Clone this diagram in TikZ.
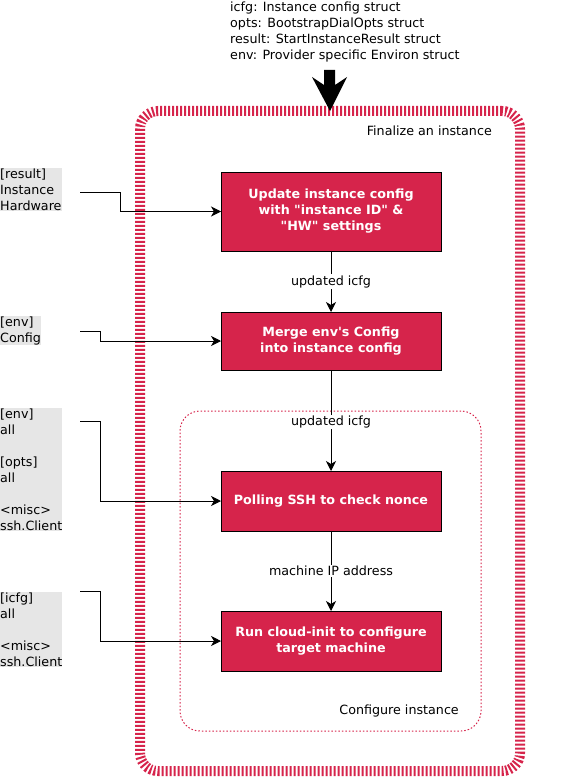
\documentclass[tikz,border=0pt]{standalone}
\usepackage{fontspec}
\setmainfont{DejaVu Sans}
\usetikzlibrary{arrows.meta}
\definecolor{crim}{HTML}{D6244B}
\definecolor{lgrey}{HTML}{E6E6E6}
\tikzset{
  base/.style={font=\fontsize{12.7}{16}\selectfont},
  procbox/.style={base, draw=black, line width=0.9pt, fill=crim, text=white,
    font=\fontsize{12.7}{16}\selectfont\bfseries, align=center,
    minimum width=220pt, inner sep=0pt, outer sep=0pt},
  inlabel/.style={base, fill=lgrey, align=left, anchor=north west, inner xsep=0pt, inner ysep=0.5pt},
  edgelabel/.style={base, fill=white, inner sep=1pt},
  conn/.style={draw=black, line width=0.9pt, -{Stealth[length=10pt, width=10pt, inset=3pt]}},
}
\begin{document}
\begin{tikzpicture}[x=1pt,y=-1pt]
\useasboundingbox (0,0) rectangle (562,778);
% containers
\node[draw=crim, line width=10pt, dash pattern=on 2pt off 2pt, rounded corners=18pt,
  minimum width=380pt, minimum height=660pt, outer sep=0pt, inner sep=0pt] (outer) at (330,441) {};
\node[draw=crim, line width=1pt, dash pattern=on 1.5pt off 2pt, rounded corners=20pt,
  minimum width=301pt, minimum height=320pt, outer sep=0pt, inner sep=0pt] (inner) at (330.5,571) {};
\node[base, anchor=east, inner sep=0pt] (outerlbl) at (492,131) {Finalize an instance};
\node[base, anchor=east, inner sep=0pt] (innerlbl) at (459,711) {Configure instance};
% top text
\node[base, align=left, anchor=north west, inner sep=0pt] (toptext) at (230,1.5)
  {icfg: Instance config struct\\opts: BootstrapDialOpts struct\\result: StartInstanceResult struct\\env: Provider specific Environ struct};
% big arrow
\fill[black] (outer.north) -- ++(17,-34) -- ++(-12,8) -- ++(0,-15) -- ++(-11,0) -- ++(0,15) -- ++(-12,-8) -- cycle;
% process boxes
\node[procbox, minimum height=79pt] (b1) at (331,211.5) {Update instance config\\with \textquotedbl instance ID\textquotedbl{} \&\\\textquotedbl HW\textquotedbl{} settings};
\node[procbox, minimum height=58pt] (b2) at (331,341) {Merge env\textquotesingle s Config\\into instance config};
\node[procbox, minimum height=60pt] (b3) at (331,501) {Polling SSH to check nonce};
\node[procbox, minimum height=60pt] (b4) at (331,641) {Run cloud-init to configure\\target machine};
% vertical connectors
\draw[conn] (b1) -- node[edgelabel]{updated icfg} (b2);
\draw[conn] (b2) -- node[edgelabel, pos=0.515]{updated icfg} (b3);
\draw[conn] (b3) -- node[edgelabel]{machine IP address} (b4);
% input labels
\node[inlabel] (l1) at (0,168) {[result]\\Instance\\Hardware};
\node[inlabel] (l2) at (0,316) {[env]\\Config};
\node[inlabel] (l3) at (0,408) {[env]\\all\\[16pt][opts]\\all\\[16pt]<misc>\\ssh.Client};
\node[inlabel] (l4) at (0,592) {[icfg]\\all\\[16pt]<misc>\\ssh.Client};
\coordinate (s1) at (80,192);
\coordinate (s2) at (80,331);
\coordinate (s3) at (80,421);
\coordinate (s4) at (80,591);
\draw[conn] (s1) -- ++(40,0) |- (b1.west);
\draw[conn] (s2) -- ++(20,0) |- (b2.west);
\draw[conn] (s3) -- ++(20,0) |- (b3.west);
\draw[conn] (s4) -- ++(20,0) |- (b4.west);
\end{tikzpicture}
\end{document}
